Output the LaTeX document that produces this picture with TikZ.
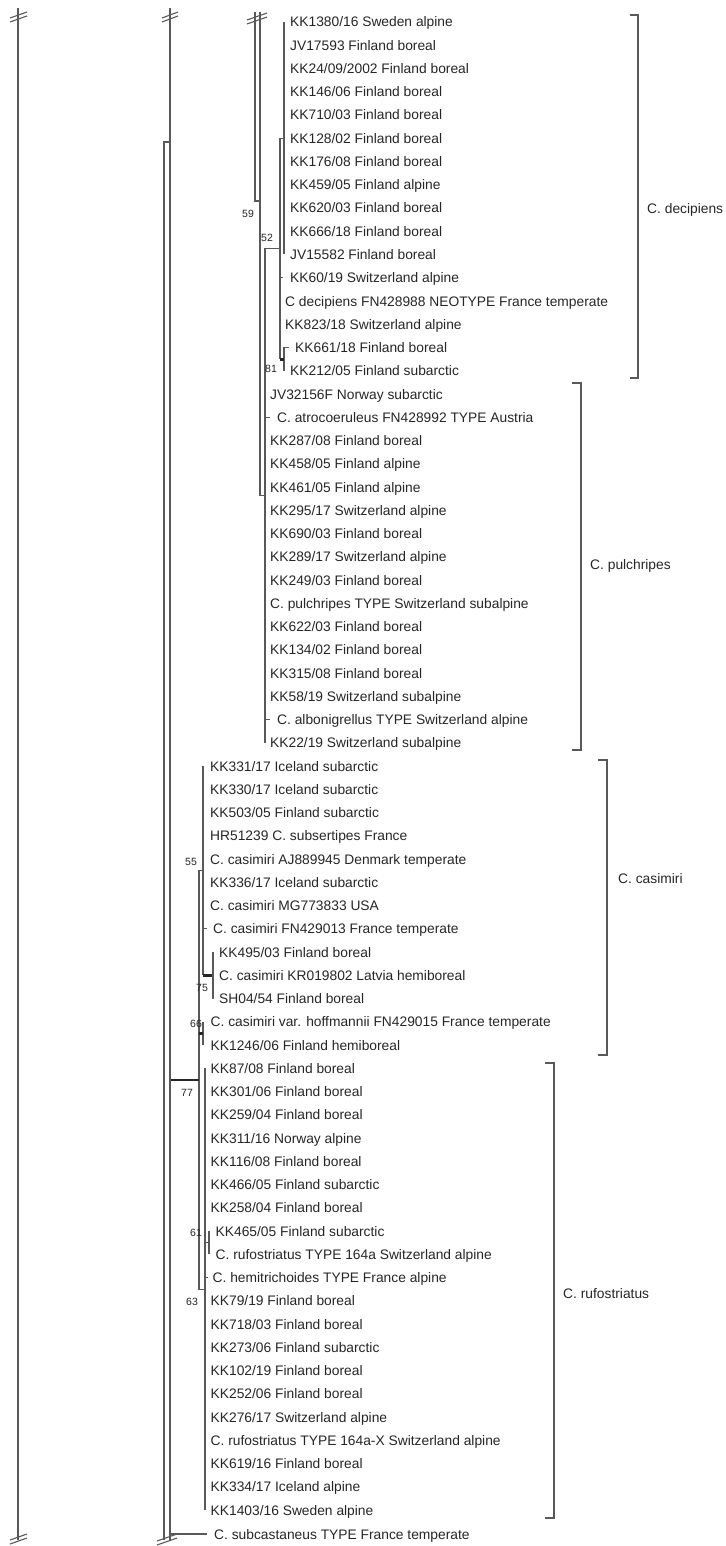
\documentclass[tikz,border=0pt]{standalone}
\usepackage{fontspec}
\setmainfont{Liberation Sans}
\begin{document}
\begin{tikzpicture}[x=1pt,y=-1pt]
        \tikzstyle{every node}=[inner sep=0pt, text=black!85]
        \tikzstyle{leaf}=[anchor=west, text height=10pt, text depth=0pt, font=\fontsize{13.8}{16}\selectfont]
        \tikzstyle{boot}=[font=\fontsize{10.5}{12}\selectfont]
        \tikzstyle{br}=[draw=black!65, line width=1.1pt]
        \tikzstyle{strong}=[draw=black!85, line width=2.8pt]
        \useasboundingbox (0,0) rectangle (725,1546);
        % C. decipiens
        \node[leaf] (l1) at (290,22) {KK1380/16 Sweden alpine};
        \node[leaf] (l2) at (290,45.25) {JV17593 Finland boreal};
        \node[leaf] (l3) at (290,68.5) {KK24/09/2002 Finland boreal};
        \node[leaf] (l4) at (290,91.75) {KK146/06 Finland boreal};
        \node[leaf] (l5) at (290,115) {KK710/03 Finland boreal};
        \node[leaf] (l6) at (290,138.25) {KK128/02 Finland boreal};
        \node[leaf] (l7) at (290,161.5) {KK176/08 Finland boreal};
        \node[leaf] (l8) at (290,184.75) {KK459/05 Finland alpine};
        \node[leaf] (l9) at (290,208) {KK620/03 Finland boreal};
        \node[leaf] (l10) at (290,231.25) {KK666/18 Finland boreal};
        \node[leaf] (l11) at (290,254.5) {JV15582 Finland boreal};
        \node[leaf] (l12) at (290,277.75) {KK60/19 Switzerland alpine};
        \node[leaf] (l13) at (285,301) {C decipiens FN428988 NEOTYPE France temperate};
        \node[leaf] (l14) at (285,324.25) {KK823/18 Switzerland alpine};
        \node[leaf] (l15) at (295,347.5) {KK661/18 Finland boreal};
        \node[leaf] (l16) at (290,370.75) {KK212/05 Finland subarctic};
        % C. pulchripes
        \node[leaf] (l17) at (270,394) {JV32156F Norway subarctic};
        \node[leaf] (l18) at (277,417.25) {C. atrocoeruleus FN428992 TYPE Austria};
        \node[leaf] (l19) at (270,440.5) {KK287/08 Finland boreal};
        \node[leaf] (l20) at (270,463.75) {KK458/05 Finland alpine};
        \node[leaf] (l21) at (270,487) {KK461/05 Finland alpine};
        \node[leaf] (l22) at (270,510.25) {KK295/17 Switzerland alpine};
        \node[leaf] (l23) at (270,533.5) {KK690/03 Finland boreal};
        \node[leaf] (l24) at (270,556.75) {KK289/17 Switzerland alpine};
        \node[leaf] (l25) at (270,580) {KK249/03 Finland boreal};
        \node[leaf] (l26) at (270,603.25) {C. pulchripes TYPE Switzerland subalpine};
        \node[leaf] (l27) at (270,626.5) {KK622/03 Finland boreal};
        \node[leaf] (l28) at (270,649.75) {KK134/02 Finland boreal};
        \node[leaf] (l29) at (270,673) {KK315/08 Finland boreal};
        \node[leaf] (l30) at (270,696.25) {KK58/19 Switzerland subalpine};
        \node[leaf] (l31) at (277,719.5) {C. albonigrellus TYPE Switzerland alpine};
        \node[leaf] (l32) at (270,742.75) {KK22/19 Switzerland subalpine};
        % C. casimiri
        \node[leaf] (l33) at (210,766) {KK331/17 Iceland subarctic};
        \node[leaf] (l34) at (210,789.25) {KK330/17 Iceland subarctic};
        \node[leaf] (l35) at (210,812.5) {KK503/05 Finland subarctic};
        \node[leaf] (l36) at (210,835.75) {HR51239 C. subsertipes France};
        \node[leaf] (l37) at (210,859) {C. casimiri AJ889945 Denmark temperate};
        \node[leaf] (l38) at (210,882.25) {KK336/17 Iceland subarctic};
        \node[leaf] (l39) at (210,905.5) {C. casimiri MG773833 USA};
        \node[leaf] (l40) at (213,928.75) {C. casimiri FN429013 France temperate};
        \node[leaf] (l41) at (219,952) {KK495/03 Finland boreal};
        \node[leaf] (l42) at (219,975.25) {C. casimiri KR019802 Latvia hemiboreal};
        \node[leaf] (l43) at (219,998.5) {SH04/54 Finland boreal};
        \node[leaf] (l44) at (210.5,1021.75) {C. casimiri var. hoffmannii FN429015 France temperate};
        \node[leaf] (l45) at (210.5,1045) {KK1246/06 Finland hemiboreal};
        % C. rufostriatus
        \node[leaf] (l46) at (210.5,1068.25) {KK87/08 Finland boreal};
        \node[leaf] (l47) at (210.5,1091.5) {KK301/06 Finland boreal};
        \node[leaf] (l48) at (210.5,1114.75) {KK259/04 Finland boreal};
        \node[leaf] (l49) at (210.5,1138) {KK311/16 Norway alpine};
        \node[leaf] (l50) at (210.5,1161.25) {KK116/08 Finland boreal};
        \node[leaf] (l51) at (210.5,1184.5) {KK466/05 Finland subarctic};
        \node[leaf] (l52) at (210.5,1207.75) {KK258/04 Finland boreal};
        \node[leaf] (l53) at (215.5,1231) {KK465/05 Finland subarctic};
        \node[leaf] (l54) at (215.5,1254.25) {C. rufostriatus TYPE 164a Switzerland alpine};
        \node[leaf] (l55) at (212.5,1277.5) {C. hemitrichoides TYPE France alpine};
        \node[leaf] (l56) at (210.5,1300.75) {KK79/19 Finland boreal};
        \node[leaf] (l57) at (210.5,1324) {KK718/03 Finland boreal};
        \node[leaf] (l58) at (210.5,1347.25) {KK273/06 Finland subarctic};
        \node[leaf] (l59) at (210.5,1370.5) {KK102/19 Finland boreal};
        \node[leaf] (l60) at (210.5,1393.75) {KK252/06 Finland boreal};
        \node[leaf] (l61) at (210.5,1417) {KK276/17 Switzerland alpine};
        \node[leaf] (l62) at (210.5,1440.25) {C. rufostriatus TYPE 164a-X Switzerland alpine};
        \node[leaf] (l63) at (210.5,1463.5) {KK619/16 Finland boreal};
        \node[leaf] (l64) at (210.5,1486.75) {KK334/17 Iceland alpine};
        \node[leaf] (l65) at (210.5,1510) {KK1403/16 Sweden alpine};
        \node[leaf] (l66) at (214,1534) {C. subcastaneus TYPE France temperate};

        % inner nodes of the tree
        \coordinate (dA) at (284,138.25);
        \coordinate (dB) at (280,248.7);
        \coordinate (d81) at (284,359.1);
        \coordinate (p52) at (265,495.7);
        \coordinate (t1) at (255,12);
        \coordinate (t2) at (260,12);
        \coordinate (s59) at (255,201);
        \coordinate (c55) at (203,870.6);
        \coordinate (c75) at (213,975.25);
        \coordinate (c66) at (203,1033.4);
        \coordinate (r61) at (209,1242.6);
        \coordinate (r63) at (205,1289.1);
        \coordinate (n77) at (199,1079.9);
        \coordinate (o1) at (18,8);
        \coordinate (o2) at (170,8);
        \coordinate (o3) at (164,142);
        \coordinate (bot) at (0,1540);

        % decipiens branches
        \draw[br] (l1.west -| dA) -- (l11.west -| dA);
        \draw[br] (dA) -- (dA -| dB) -- (d81 -| dB);
        \draw[br] (l12.west -| dB) -- ([xshift=-7pt]l12.west);
        \draw[br] ([xshift=-6pt]l15.west) -- (l15.west -| d81) -- (l16.west -| d81);
        \draw[strong] (d81 -| dB) -- (d81);
        \draw[br] (dB) -- (dB -| p52) -- (l32.west -| p52);
        \draw[br] (l18.west -| p52) -- ([xshift=-7pt]l18.west);
        \draw[br] (l31.west -| p52) -- ([xshift=-7pt]l31.west);
        \draw[br] (t2) -- (t2 |- p52) -- (p52);
        \draw[br] (t1) -- (s59) -- (s59 -| t2);

        % casimiri branches
        \draw[br] (l33.west -| c55) -- (c75 -| c55);
        \draw[strong] (c75 -| c55) -- (c75);
        \draw[br] (l41.west -| c75) -- (l43.west -| c75);
        \draw[br] (l40.west -| c55) -- ([xshift=-6pt]l40.west);
        \draw[br] (c55) -- (c55 -| n77) -- (r63 -| n77) -- (r63);
        \draw[br] (l44.west -| c66) -- (l45.west -| c66);
        \draw[strong] (c66 -| n77) -- (c66);

        % rufostriatus branches
        \draw[br] (l46.west -| r63) -- (l65.west -| r63);
        \draw[br] (r61 -| r63) -- (r61);
        \draw[br] (l53.west -| r61) -- (l54.west -| r61);
        \draw[br] (l55.west -| r63) -- ([xshift=-5pt]l55.west);
        \draw[strong] (n77 -| o2) -- (n77);

        % outer lines
        \draw[br] (o1) -- (o1 |- bot);
        \draw[br] (o2) -- (o2 |- bot);
        \draw[br] (o3 -| o2) -- (o3) -- (o3 |- bot);
        \draw[br] (l66.west -| o2) -- ([xshift=-7pt]l66.west);

        % break marks
        \draw[br] ([shift={(-8,10)}]o1) -- ++(17,-6) ([shift={(-8,14)}]o1) -- ++(17,-6);
        \draw[br] ([shift={(-8,10)}]o2) -- ++(16,-6) ([shift={(-8,14)}]o2) -- ++(16,-6);
        \draw[br] ([shift={(-8,8)}]t1) -- ++(20,-7) ([shift={(-8,12)}]t1) -- ++(20,-7);
        \draw[br] ([shift={(-8,0)}]o1 |- bot) -- ++(17,-6) ([shift={(-8,4)}]o1 |- bot) -- ++(17,-6);
        \draw[br] ([shift={(-7,1)}]o3 |- bot) -- ++(20,-7) ([shift={(-7,5)}]o3 |- bot) -- ++(20,-7);

        % support values
        \node[boot] (b59) at (248,214) {59};
        \node[boot] (b52) at (267,238) {52};
        \node[boot] (b81) at (271,369) {81};
        \node[boot] (b55) at (191,862) {55};
        \node[boot] (b75) at (202,988) {75};
        \node[boot] (b66) at (196,1024) {66};
        \node[boot] (b77) at (187,1093) {77};
        \node[boot] (b61) at (196,1233) {61};
        \node[boot] (b63) at (192,1302) {63};

        % clade brackets
        \draw[br] (630,15) -- (638,15) -- (638,378) -- (630,378);
        \node[leaf] (gdec) at (647,209) {C. decipiens};
        \draw[br] (572,383) -- (581,383) -- (581,750) -- (572,750);
        \node[leaf] (gpul) at (590,564) {C. pulchripes};
        \draw[br] (598,760) -- (607,760) -- (607,1055) -- (598,1055);
        \node[leaf] (gcas) at (618,878) {C. casimiri};
        \draw[br] (545,1063) -- (554,1063) -- (554,1518) -- (545,1518);
        \node[leaf] (gruf) at (563,1293) {C. rufostriatus};
\end{tikzpicture}
\end{document}
